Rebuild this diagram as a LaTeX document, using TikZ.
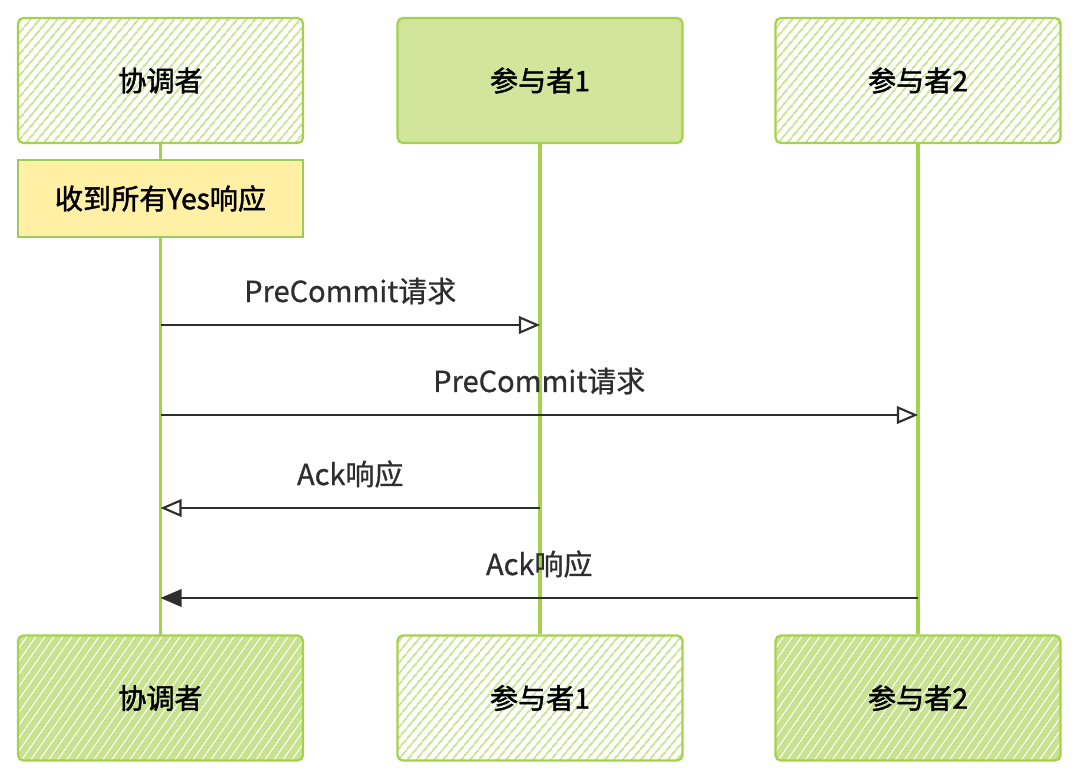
\documentclass[tikz,border=0pt]{standalone}
\usepackage{fontspec}
\setmainfont{Noto Sans CJK SC}
\newfontfamily\scatola{Noto Sans CJK SC}[FakeBold=1.6]
\newfontfamily\scritta{Noto Sans CJK SC}[FakeBold=0.8]
\usetikzlibrary{arrows.meta, patterns.meta, positioning}
\definecolor{verde}{HTML}{A5D24D}
\definecolor{verdechiaro}{HTML}{C8E290}
\definecolor{verdepieno}{HTML}{D1E59B}
\definecolor{giallo}{HTML}{FFF0A5}
\definecolor{bordogiallo}{HTML}{9BCB5B}
\definecolor{inchiostro}{HTML}{2E2E2E}
\tikzset{
  attore/.style = {draw=verde, line width=1.3pt, rounded corners=3pt, minimum width=5.7cm, minimum height=2.5cm, font=\scatola\fontsize{16}{19}\selectfont},
  tratteggio/.style = {attore, pattern={Lines[angle=50, distance=4pt, line width=1.1pt]}, pattern color=verdechiaro},
  pieno/.style = {attore, fill=verdepieno},
  fitto/.style = {attore, preaction={fill=verdechiaro}, pattern={Lines[angle=55, distance=4.2pt, line width=0.6pt]}, pattern color=white},
  vita/.style = {verde, line width=1.8pt},
  messaggio/.style = {inchiostro, line width=1.1pt},
  punta/.style = {-{Triangle[open, length=12pt, width=10pt, line width=1.2pt]}},
  punta piena/.style = {-{Triangle[length=12pt, width=10pt]}},
  etichetta/.style = {font=\scritta\fontsize{16.5}{19}\selectfont, text=inchiostro, yshift=0.68cm}
}

\begin{document}
\begin{tikzpicture}[x=0.02cm, y=-0.02cm]
    \useasboundingbox (0,0) rectangle (1080,778);
    % Partecipanti in alto
    \node[tratteggio] (coordT) at (160.5,80.5) {协调者};
    \node[pieno] (part1T) at (540,80.5) {参与者1};
    \node[tratteggio] (part2T) at (918,80.5) {参与者2};
    % Stato del coordinatore
    \node[draw=bordogiallo, fill=giallo, line width=1.2pt, minimum width=5.7cm, minimum height=1.54cm, font=\scatola\fontsize{16}{19}\selectfont] (tuttiYes) at (160.5,198.5) {收到所有Yes响应};
    % Partecipanti in basso
    \node[fitto] (coordB) at (160.5,698) {协调者};
    \node[tratteggio] (part1B) at (540,698) {参与者1};
    \node[fitto] (part2B) at (918,698) {参与者2};
    % Linee di vita
    \draw[vita] (coordT) -- (tuttiYes);
    \draw[vita] (tuttiYes) -- (coordB);
    \draw[vita] (part1T) -- (part1B);
    \draw[vita] (part2T) -- (part2B);
    % Punti dei messaggi
    \coordinate (reqA) at (coordT.south |- 0,325);
    \coordinate (reqA1) at (part1T.south |- 0,325);
    \coordinate (reqB) at (coordT.south |- 0,415);
    \coordinate (reqB2) at (part2T.south |- 0,415);
    \coordinate (ackA1) at (part1T.south |- 0,508);
    \coordinate (ackA) at (coordT.south |- 0,508);
    \coordinate (ackB2) at (part2T.south |- 0,598);
    \coordinate (ackB) at (coordT.south |- 0,598);
    % Messaggi
    \draw[messaggio, punta] (reqA) -- (reqA1) node[midway, etichetta]{PreCommit请求};
    \draw[messaggio, punta] (reqB) -- (reqB2) node[midway, etichetta]{PreCommit请求};
    \draw[messaggio, punta] (ackA1) -- (ackA) node[midway, etichetta]{Ack响应};
    \draw[messaggio, punta piena] (ackB2) -- (ackB) node[midway, etichetta]{Ack响应};
\end{tikzpicture}
\end{document}
